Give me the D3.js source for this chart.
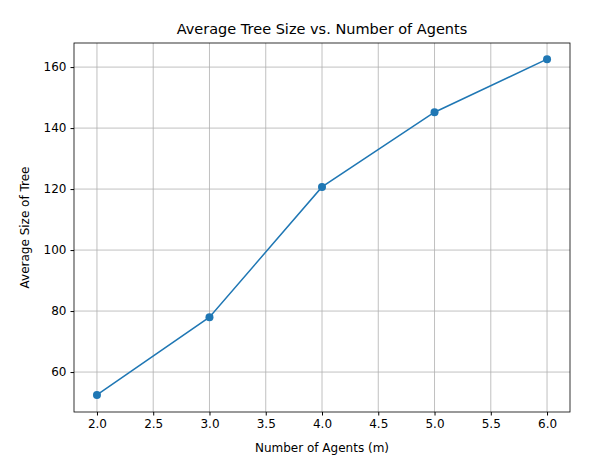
<!DOCTYPE html>
<html><head><meta charset="utf-8">
<script src="https://cdn.jsdelivr.net/npm/d3@7"></script>
<style>body{margin:0;background:#fff}text{font-family:"DejaVu Sans",sans-serif}</style>
</head><body><svg width="616" height="464"></svg>
<script>
const agents = [2, 3, 4, 5, 6];
const treeSize = [52.5, 78.0, 120.7, 145.2, 162.6];
const xTicks = [2.0, 2.5, 3.0, 3.5, 4.0, 4.5, 5.0, 5.5, 6.0];
const yTicks = [60, 80, 100, 120, 140, 160];

const svg = d3.select("svg");
const L = 74, R = 570, T = 43, B = 412;
const x = d3.scaleLinear().domain([1.796, 6.204]).range([L, R]);
const y = d3.scaleLinear().domain([46.9, 167.9]).range([B, T]);

// grid
svg.append("g").selectAll("line").data(xTicks).join("line")
  .attr("x1", d => x(d)).attr("x2", d => x(d)).attr("y1", T).attr("y2", B)
  .attr("stroke", "#b0b0b0").attr("stroke-width", 0.8);
svg.append("g").selectAll("line").data(yTicks).join("line")
  .attr("y1", d => y(d)).attr("y2", d => y(d)).attr("x1", L).attr("x2", R)
  .attr("stroke", "#b0b0b0").attr("stroke-width", 0.8);

const xa = svg.append("g").attr("transform", `translate(0,${B})`)
  .call(d3.axisBottom(x).tickValues(xTicks).tickFormat(d3.format(".1f")).tickSizeOuter(0).tickSize(3.5).tickPadding(4));
const ya = svg.append("g").attr("transform", `translate(${L},0)`)
  .call(d3.axisLeft(y).tickValues(yTicks).tickSizeOuter(0).tickSize(3.5).tickPadding(4));
[xa, ya].forEach(a => { a.select(".domain").remove(); a.selectAll("text").attr("font-size", 12).attr("fill", "#000"); a.selectAll("line").attr("stroke", "#000"); });

svg.append("rect").attr("x", L).attr("y", T).attr("width", R - L).attr("height", B - T)
  .attr("fill", "none").attr("stroke", "#000").attr("stroke-width", 0.8);

const data = agents.map((a, i) => [a, treeSize[i]]);
svg.append("path").datum(data)
  .attr("d", d3.line().x(d => x(d[0])).y(d => y(d[1])))
  .attr("fill", "none").attr("stroke", "#1f77b4").attr("stroke-width", 1.5);
svg.append("g").selectAll("circle").data(data).join("circle")
  .attr("cx", d => x(d[0])).attr("cy", d => y(d[1])).attr("r", 4).attr("fill", "#1f77b4");

svg.append("text").attr("x", (L + R) / 2).attr("y", 34).attr("text-anchor", "middle")
  .attr("font-size", 14.5).text("Average Tree Size vs. Number of Agents");
svg.append("text").attr("x", (L + R) / 2).attr("y", 452).attr("text-anchor", "middle")
  .attr("font-size", 12).text("Number of Agents (m)");
svg.append("text").attr("transform", `translate(29,${(T + B) / 2}) rotate(-90)`).attr("text-anchor", "middle")
  .attr("font-size", 12).text("Average Size of Tree");
</script></body></html>
